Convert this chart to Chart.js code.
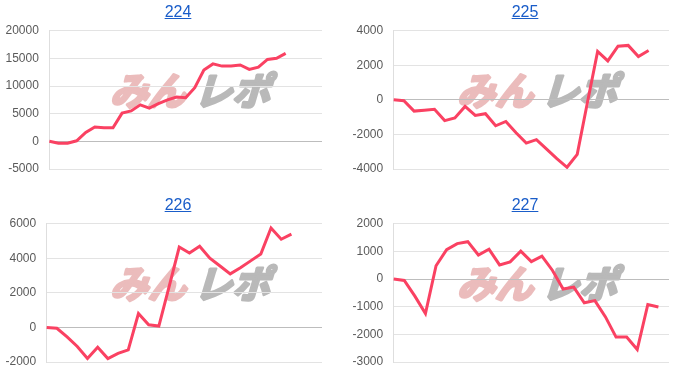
<!DOCTYPE html>
<html>
<head>
<meta charset="utf-8">
<script src="https://cdn.jsdelivr.net/npm/chart.js@4.4.1/dist/chart.umd.min.js"></script>
<style>
    body { margin: 0; background: #fff; }
    #wrap { position: relative; width: 700px; height: 386px; overflow: hidden; }
    .cell { position: absolute; width: 350px; height: 193px; }
    .cell a {
        position: absolute; top: 3px; left: 0; width: 356px;
        text-align: center; font: 16px/17px "Liberation Sans", Arial, sans-serif;
        color: #1a5dc9; text-decoration: underline; z-index: 2;
    }
    .cell canvas { position: absolute; top: 13px; left: -8px; }
</style>
</head>
<body>
<div id="wrap">
    <div class="cell" style="left:0;top:0"><a href="#">224</a><canvas id="c224" width="350" height="179"></canvas></div>
    <div class="cell" style="left:347px;top:0"><a href="#">225</a><canvas id="c225" width="350" height="179"></canvas></div>
    <div class="cell" style="left:0;top:193px"><a href="#">226</a><canvas id="c226" width="350" height="179"></canvas></div>
    <div class="cell" style="left:347px;top:193px"><a href="#">227</a><canvas id="c227" width="350" height="179"></canvas></div>
</div>
<script>
// x labels (days) - axis labels are hidden in the picture
const days31 = ['1','2','3','4','5','6','7','8','9','10','11','12','13','14','15','16','17','18','19','20','21','22','23','24','25','26','27','28','29','30','31'];
const days28 = ['1','2','3','4','5','6','7','8','9','10','11','12','13','14','15','16','17','18','19','20','21','22','23','24','25','26','27','28'];
const days27 = ['1','2','3','4','5','6','7','8','9','10','11','12','13','14','15','16','17','18','19','20','21','22','23','24','25','26','27'];

// cumulative values
const values224 = [0, -350, -350, 100, 1600, 2600, 2450, 2450, 5100, 5500, 6600, 6000, 6800, 7500, 8000, 7900, 9700, 12900, 14000, 13600, 13600, 13800, 13000, 13400, 14800, 15000, 15900];
const values225 = [0, -50, -650, -600, -550, -1200, -1050, -380, -900, -800, -1500, -1250, -1900, -2500, -2300, -2850, -3400, -3900, -3150, -150, 2800, 2250, 3100, 3150, 2500, 2850];
const values226 = [0, -50, -550, -1100, -1800, -1150, -1800, -1500, -1300, 800, 150, 80, 2350, 4650, 4300, 4700, 4000, 3550, 3100, 3450, 3850, 4250, 5750, 5100, 5400];
const values227 = [0, -50, -620, -1250, 480, 1060, 1280, 1350, 870, 1080, 510, 620, 1010, 630, 830, 310, -360, -290, -860, -780, -1370, -2100, -2100, -2550, -920, -1010];

// y axis ranges
const axis224 = { min: -5000, max: 20000, step: 5000 };
const axis225 = { min: -4000, max: 4000, step: 2000 };
const axis226 = { min: -2000, max: 6000, step: 2000 };
const axis227 = { min: -3000, max: 2000, step: 1000 };

// background logo, drawn under the grid
const watermark = {
    id: 'watermark',
    beforeDraw(chart) {
        const c = chart.ctx;
        c.save();
        c.font = 'bold 38px "Noto Sans CJK JP", sans-serif';
        c.textBaseline = 'middle';
        c.lineJoin = 'round';
        c.lineWidth = 3;
        c.translate(122, 78);
        c.transform(1.0, 0, -0.3, 1, 0, 0);
        c.fillStyle = c.strokeStyle = '#ebbcbc';
        c.fillText('みん', 0, 0);
        c.strokeText('みん', 0, 0);
        c.fillStyle = c.strokeStyle = '#b9b9b9';
        c.fillText('レポ', 84, 0);
        c.strokeText('レポ', 84, 0);
        c.restore();
    }
};

function makeChart(id, labels, values, axis) {
    return new Chart(document.getElementById(id), {
        type: 'line',
        data: {
            labels: labels,
            datasets: [{
                data: values,
                borderColor: '#fa4162',
                borderWidth: 3,
                pointRadius: 0,
                tension: 0,
                fill: false
            }]
        },
        options: {
            responsive: false,
            animation: false,
            layout: { padding: { left: 3, right: 20, top: 12, bottom: 23 } },
            plugins: { legend: { display: false }, tooltip: { enabled: false } },
            scales: {
                x: { display: false },
                y: {
                    min: axis.min,
                    max: axis.max,
                    ticks: {
                        stepSize: axis.step,
                        padding: 10.5,
                        color: '#5a5a5a',
                        font: { family: '"Liberation Sans", Arial, sans-serif', size: 12 },
                        callback: (v) => String(v)
                    },
                    grid: {
                        drawTicks: false,
                        color: (ctx) => ctx.tick && ctx.tick.value === 0 ? '#bdbdbd' : '#e3e3e3'
                    },
                    border: { color: '#dedede' }
                }
            }
        },
        plugins: [watermark]
    });
}

makeChart('c224', days31, values224, axis224);
makeChart('c225', days28, values225, axis225);
makeChart('c226', days28, values226, axis226);
makeChart('c227', days27, values227, axis227);
</script>
</body>
</html>
